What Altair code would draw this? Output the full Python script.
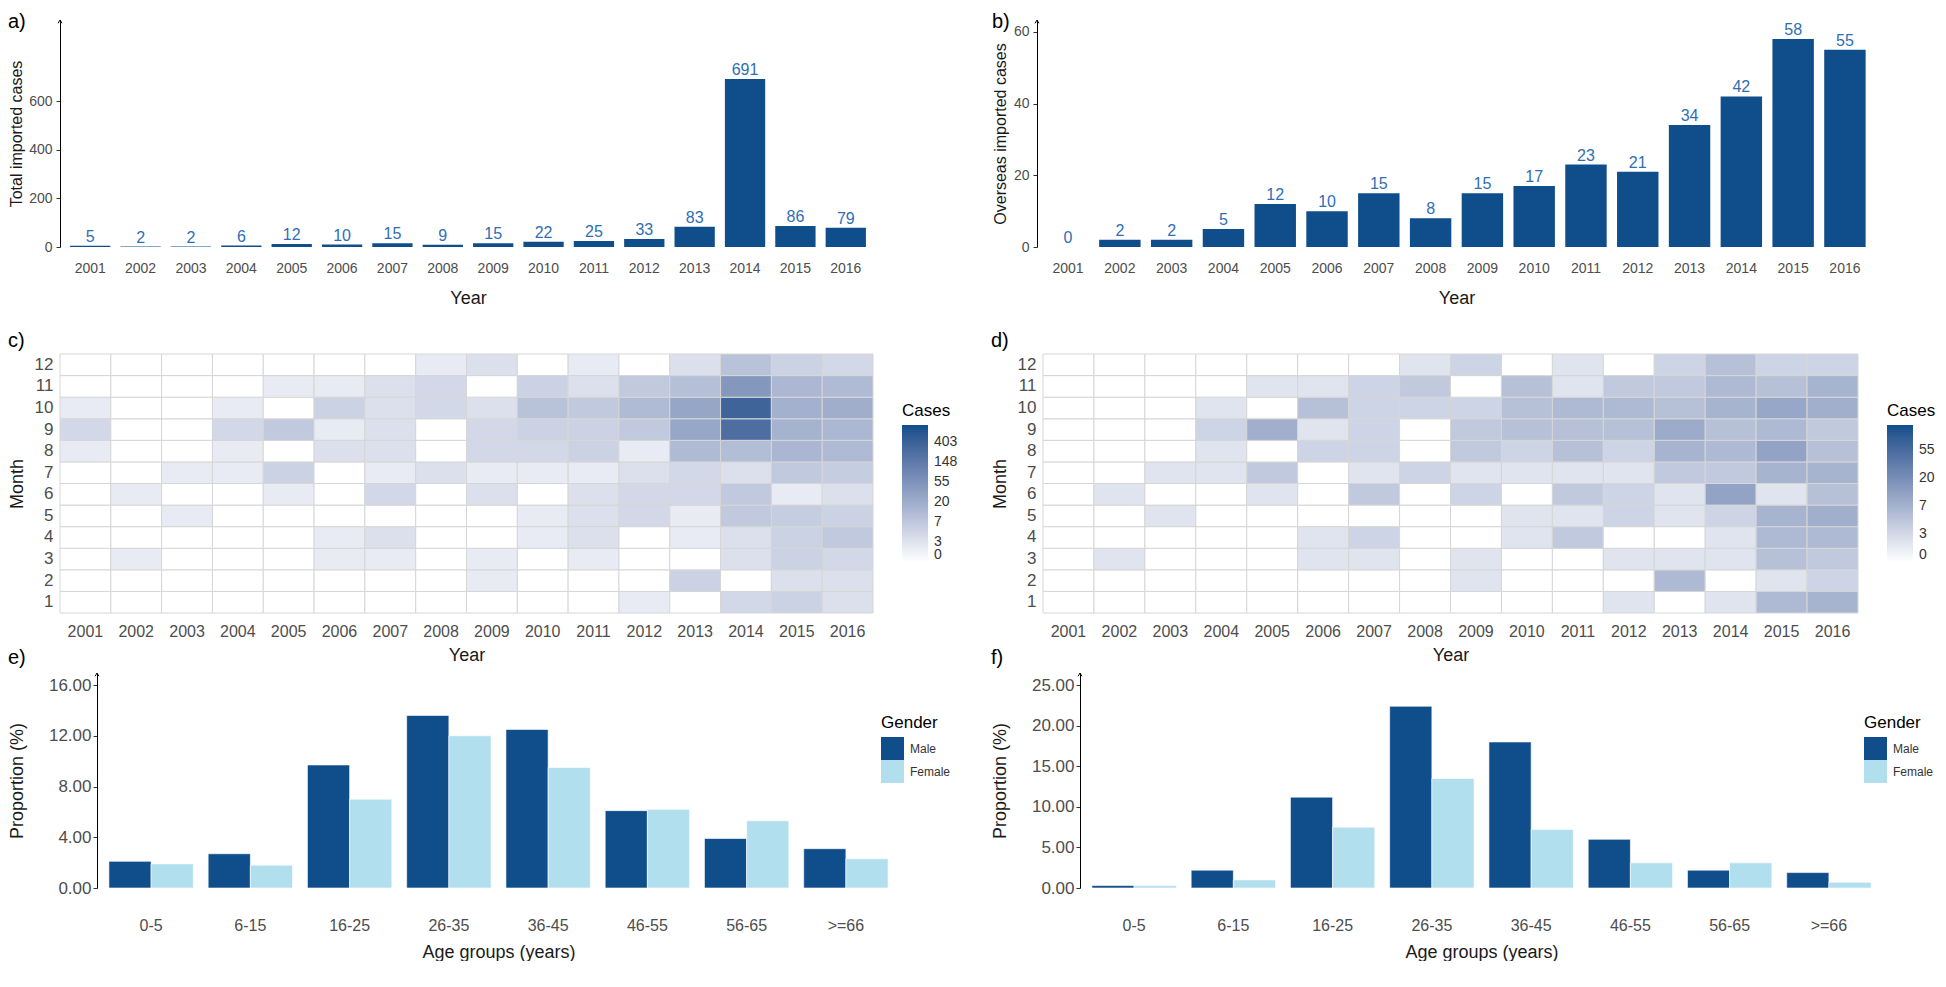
import json
import altair as alt
import pandas as pd

# ---------------- data ----------------
years = [str(y) for y in range(2001, 2017)]
total_imported = [5, 2, 2, 6, 12, 10, 15, 9, 15, 22, 25, 33, 83, 691, 86, 79]
overseas_imported = [0, 2, 2, 5, 12, 10, 15, 8, 15, 17, 23, 21, 34, 42, 58, 55]

month_labels = [str(m) for m in range(1, 13)]
# monthly cases per year (Jan..Dec)
total_monthly = [
    [0, 0, 0, 0, 0, 0, 0, 1, 3, 1, 0, 0],
    [0, 0, 1, 0, 0, 1, 0, 0, 0, 0, 0, 0],
    [0, 0, 0, 0, 1, 0, 1, 0, 0, 0, 0, 0],
    [0, 0, 0, 0, 0, 0, 1, 1, 3, 1, 0, 0],
    [0, 0, 0, 0, 0, 1, 4, 0, 6, 0, 1, 0],
    [0, 0, 1, 1, 0, 0, 0, 2, 1, 4, 1, 0],
    [0, 0, 1, 2, 0, 3, 1, 2, 2, 2, 2, 0],
    [0, 0, 0, 0, 0, 0, 2, 0, 0, 3, 3, 1],
    [0, 1, 1, 0, 0, 2, 1, 3, 3, 2, 0, 2],
    [0, 0, 0, 1, 1, 0, 1, 3, 4, 8, 4, 0],
    [0, 0, 1, 2, 2, 2, 1, 4, 4, 6, 2, 1],
    [1, 0, 0, 0, 3, 3, 2, 1, 6, 11, 6, 0],
    [0, 4, 0, 1, 1, 3, 3, 11, 24, 25, 9, 2],
    [3, 0, 2, 2, 6, 6, 2, 10, 237, 370, 45, 8],
    [4, 2, 4, 4, 5, 1, 6, 13, 15, 16, 12, 4],
    [2, 2, 3, 6, 4, 2, 5, 11, 12, 18, 11, 3],
]
overseas_monthly = [
    [0, 0, 0, 0, 0, 0, 0, 0, 0, 0, 0, 0],
    [0, 0, 1, 0, 0, 1, 0, 0, 0, 0, 0, 0],
    [0, 0, 0, 0, 1, 0, 1, 0, 0, 0, 0, 0],
    [0, 0, 0, 0, 0, 0, 1, 1, 2, 1, 0, 0],
    [0, 0, 0, 0, 0, 1, 3, 0, 7, 0, 1, 0],
    [0, 0, 1, 1, 0, 0, 0, 2, 1, 4, 1, 0],
    [0, 0, 1, 2, 0, 3, 1, 2, 2, 2, 2, 0],
    [0, 0, 0, 0, 0, 0, 2, 0, 0, 2, 3, 1],
    [0, 1, 1, 0, 0, 2, 1, 3, 3, 2, 0, 2],
    [0, 0, 0, 1, 1, 0, 1, 2, 4, 4, 4, 0],
    [0, 0, 0, 3, 1, 3, 1, 4, 4, 5, 1, 1],
    [1, 0, 1, 0, 2, 2, 1, 2, 4, 5, 3, 0],
    [0, 5, 1, 0, 1, 1, 3, 6, 8, 4, 3, 2],
    [1, 0, 1, 1, 2, 10, 3, 5, 4, 6, 5, 4],
    [5, 1, 4, 5, 6, 1, 6, 10, 5, 9, 4, 2],
    [6, 2, 3, 5, 7, 4, 6, 4, 3, 7, 6, 2],
]
cases_legend_labels = ["0", "3", "7", "20", "55", "148", "403"]

age_groups = ["0-5", "6-15", "16-25", "26-35", "36-45", "46-55", "56-65", ">=66"]
genders = ["Male", "Female"]
male_total_pct = [2.1, 2.7, 9.7, 13.6, 12.5, 6.1, 3.9, 3.1]
female_total_pct = [1.9, 1.8, 7.0, 12.0, 9.5, 6.2, 5.3, 2.3]
male_overseas_pct = [0.3, 2.2, 11.2, 22.4, 18.0, 6.0, 2.2, 1.9]
female_overseas_pct = [0.3, 1.0, 7.5, 13.5, 7.2, 3.1, 3.1, 0.7]

# ---------------- style ----------------
DARK = "#104E8B"
LIGHT = "#B2DFEE"
LABEL_BLUE = "#2F6EB5"
FONT = "Liberation Sans"
GRAY = "#4D4D4D"
TITLE_COLOR = "#1A1A1A"
ARROW = "M-0.5,0.85L0,0L0.5,0.85"


def panel_title(letter, offset=4):
    return alt.TitleParams(letter, anchor="start", frame="bounds", fontSize=20,
                           font=FONT, fontWeight="normal", color="black", offset=offset)


def arrow_layer(x0=0):
    return alt.Chart(pd.DataFrame({"k": [0]})).mark_point(
        shape=ARROW, filled=False, color="black", strokeWidth=1, size=60, opacity=1
    ).encode(x=alt.value(x0), y=alt.value(0))


def yearly_panel(values, letter, ytitle, ydomain, yticks, width, height, extent):
    df = pd.DataFrame({"Year": years, "Cases": values})
    x = alt.X("Year:N", sort=years,
              scale=alt.Scale(paddingInner=0.2, paddingOuter=0.2),
              axis=alt.Axis(title="Year", labelAngle=0, ticks=False, domain=False,
                            labelFontSize=14, labelColor=GRAY, labelPadding=14,
                            labelFont=FONT, titleFont=FONT, titleFontSize=18,
                            titleFontWeight="normal", titleColor=TITLE_COLOR,
                            titlePadding=14))
    y = alt.Y("Cases:Q", scale=alt.Scale(domain=ydomain, nice=False),
              axis=alt.Axis(title=ytitle, values=yticks, grid=False, domain=True,
                            domainColor="black", domainWidth=1, ticks=True,
                            tickColor="#333333", tickSize=4, labelFontSize=14,
                            labelColor=GRAY, labelPadding=4, labelFont=FONT,
                            titleFont=FONT, titleFontSize=16, titleFontWeight="normal",
                            titleColor=TITLE_COLOR, titlePadding=5,
                            minExtent=extent, maxExtent=extent, format="d"))
    bars = alt.Chart(df).mark_bar(color=DARK).encode(x=x, y=y)
    labels = alt.Chart(df).mark_text(dy=-9, color=LABEL_BLUE, fontSize=16,
                                     font=FONT).encode(
        x=alt.X("Year:N", sort=years), y="Cases:Q", text="Cases:Q")
    return alt.layer(bars, labels, arrow_layer()).properties(
        width=width, height=height, title=panel_title(letter, offset=-14))


def heat_panel(matrix, letter, dmax, nticks, width, height, legend_gap):
    rows = []
    for yi, yr in enumerate(years):
        for mi, m in enumerate(month_labels):
            rows.append({"Year": yr, "Month": m, "Cases": matrix[yi][mi]})
    df = pd.DataFrame(rows)
    label_expr = json.dumps(cases_legend_labels) + "[datum.value]"
    return alt.Chart(df).transform_calculate(
        lc="log(datum.Cases + 1)"
    ).mark_rect(stroke="#D6D6D6", strokeWidth=1).encode(
        x=alt.X("Year:N", sort=years,
                scale=alt.Scale(paddingInner=0, paddingOuter=0),
                axis=alt.Axis(title="Year", labelAngle=0, ticks=False, domain=False,
                              labelFontSize=16, labelColor=GRAY, labelPadding=10,
                              labelFont=FONT, titleFont=FONT, titleFontSize=18,
                              titleFontWeight="normal", titleColor=TITLE_COLOR,
                              titlePadding=7)),
        y=alt.Y("Month:N", sort=month_labels[::-1],
                axis=alt.Axis(title="Month", ticks=False, domain=False,
                              labelFontSize=17, labelColor=GRAY, labelPadding=7,
                              labelFont=FONT, titleFont=FONT, titleFontSize=18,
                              titleFontWeight="normal", titleColor=TITLE_COLOR,
                              titlePadding=3, minExtent=31, maxExtent=31)),
        color=alt.Color("lc:Q",
                        scale=alt.Scale(domain=[0, dmax], range=["#FFFFFF", DARK],
                                        interpolate="lab"),
                        legend=alt.Legend(title="Cases", values=list(range(nticks)),
                                          labelExpr=label_expr, orient="none",
                                          legendX=width + legend_gap, legendY=49,
                                          gradientLength=137, gradientThickness=26,
                                          gradientStrokeWidth=0, labelOverlap=False,
                                          labelFontSize=14, labelColor="#333333",
                                          labelFont=FONT, titleFont=FONT,
                                          titleFontSize=17, titleFontWeight="normal",
                                          titleColor="black", titlePadding=5,
                                          labelOffset=6)),
    ).properties(width=width, height=height, title=panel_title(letter, offset=3))


def age_panel(male, female, letter, ydomain, yticks, inset, plot_w, height):
    rows = []
    for i, g in enumerate(age_groups):
        rows.append({"Age": g, "Gender": "Male", "Pct": male[i]})
        rows.append({"Age": g, "Gender": "Female", "Pct": female[i]})
    df = pd.DataFrame(rows)
    width = inset + plot_w
    bars = alt.Chart(df).mark_bar(stroke="white", strokeWidth=0.6).encode(
        x=alt.X("Age:N", sort=age_groups,
                scale=alt.Scale(paddingInner=0.15, paddingOuter=0.12,
                                range=[inset, width]),
                axis=alt.Axis(title="Age groups (years)", labelAngle=0, ticks=False,
                              domain=False, labelFontSize=16, labelColor=GRAY,
                              labelPadding=29, labelFont=FONT, titleFont=FONT,
                              titleFontSize=18, titleFontWeight="normal",
                              titleColor=TITLE_COLOR, titlePadding=10)),
        xOffset=alt.XOffset("Gender:N", sort=genders),
        y=alt.Y("Pct:Q", scale=alt.Scale(domain=ydomain, nice=False),
                axis=alt.Axis(title="Proportion (%)", values=yticks, format=".2f",
                              grid=False, domain=True, domainColor="black",
                              domainWidth=1, ticks=True, tickColor="#333333",
                              tickSize=4, labelFontSize=17, labelColor=GRAY,
                              labelPadding=2, labelFont=FONT, titleFont=FONT,
                              titleFontSize=18, titleFontWeight="normal",
                              titleColor=TITLE_COLOR, titlePadding=17,
                              minExtent=54, maxExtent=54, offset=-inset)),
        color=alt.Color("Gender:N", sort=genders,
                        scale=alt.Scale(domain=genders, range=[DARK, LIGHT]),
                        legend=alt.Legend(title="Gender", orient="none",
                                          legendX=inset + 784, legendY=42,
                                          symbolType="square", symbolSize=529,
                                          symbolStrokeWidth=0, rowPadding=0,
                                          labelFontSize=12, labelColor="#333333",
                                          labelFont=FONT, titleFont=FONT,
                                          titleFontSize=17, titleFontWeight="normal",
                                          titleColor="black", titlePadding=5,
                                          labelOffset=6)),
    )
    return alt.layer(bars, arrow_layer(inset)).properties(
        width=width, height=height, title=panel_title(letter, offset=3))


a = yearly_panel(total_imported, "a)", "Total imported cases", [0, 934],
                 [0, 200, 400, 600], 816, 227, 31)
b = yearly_panel(overseas_imported, "b)", "Overseas imported cases", [0, 63.3],
                 [0, 20, 40, 60], 839, 227, 24)
c = heat_panel(total_monthly, "c)", 6.85, 7, 813, 259, 29)
d = heat_panel(overseas_monthly, "d)", 4.9, 5, 815, 259, 29)
e = age_panel(male_total_pct, female_total_pct, "e)", [0, 16.95],
              [0, 4, 8, 12, 16], 37, 803, 215)
f = age_panel(male_overseas_pct, female_overseas_pct, "f)", [0, 26.5],
              [0, 5, 10, 15, 20, 25], 37, 803, 215)


def indep(ch):
    return ch.resolve_scale(color="independent").resolve_legend(color="independent")


row1 = alt.hconcat(a, b, spacing=116)
row2 = indep(alt.hconcat(c, d, spacing=33))
row3 = indep(alt.hconcat(e, f, spacing=40))

lower = indep(alt.vconcat(row2, row3, spacing=-16))
chart = indep(alt.vconcat(row1, lower, spacing=23)).properties(
    padding={"left": 0, "top": 4, "right": 0, "bottom": 0}, background="white"
).configure(font=FONT).configure_view(strokeWidth=0, stroke="transparent")

chart.save("out.html", embed_options={"renderer": "svg", "actions": False})
